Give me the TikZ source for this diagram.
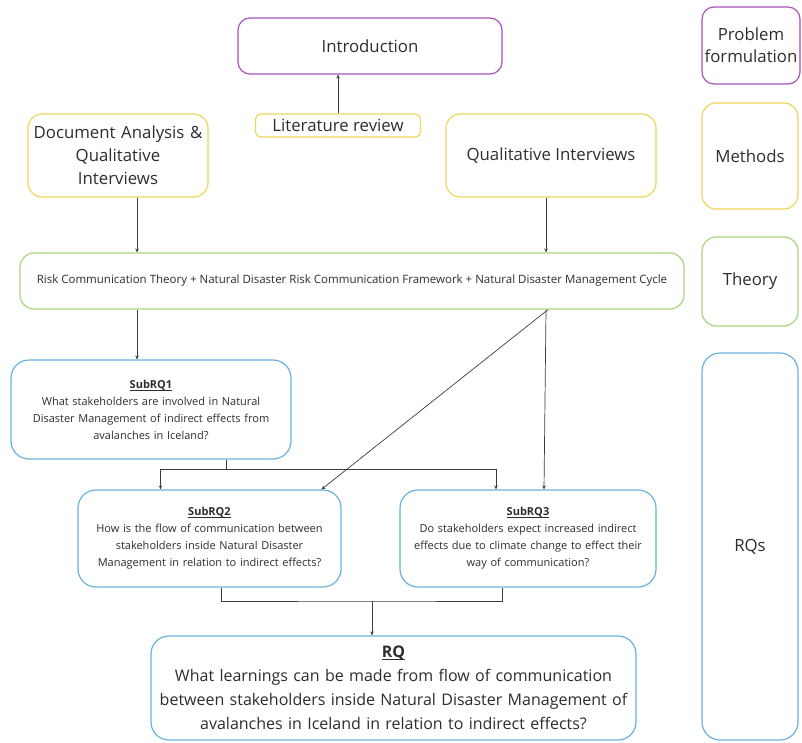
\documentclass[tikz,border=0pt]{standalone}
\usepackage{fontspec}
\setmainfont{Open Sans}
\usetikzlibrary{arrows.meta}

\definecolor{probpurple}{RGB}{168,82,186}
\definecolor{methyellow}{RGB}{238,214,92}
\definecolor{theogreen}{RGB}{168,214,124}
\definecolor{rqblue}{RGB}{104,178,220}
\definecolor{textgray}{RGB}{45,45,45}
\definecolor{linegray}{RGB}{60,60,60}

% bold title with a rule under it
\newcommand{\rqtitle}[1]{\setbox0\hbox{\textbf{#1}}\rlap{\rule[-2.2pt]{\wd0}{0.7pt}}\box0}

\begin{document}
\begin{tikzpicture}[
  x=1pt, y=1pt,
  every node/.style={text=textgray, align=center, inner sep=0pt},
  purpleblock/.style={
    rectangle,
    rounded corners=12pt,
    line width=1.2pt,
    draw=probpurple,
    font=\fontsize{16.8}{22}\selectfont
  },
  yellowblock/.style={
    rectangle,
    rounded corners=14pt,
    line width=1.2pt,
    draw=methyellow,
    font=\fontsize{16.8}{23}\selectfont
  },
  greenblock/.style={
    rectangle,
    rounded corners=14pt,
    line width=1.2pt,
    draw=theogreen,
    font=\fontsize{16.8}{23}\selectfont
  },
  blueblock/.style={
    rectangle,
    rounded corners=18pt,
    line width=1.2pt,
    draw=rqblue,
    font=\fontsize{11}{17}\selectfont
  },
  arr/.style={
    draw=linegray,
    line width=0.7pt,
    -{Stealth[length=4pt,width=3.5pt]}
  },
  link/.style={
    draw=linegray,
    line width=0.7pt
  }]
  \useasboundingbox (0,0) rectangle (802,-743);

  % left column
  \node[purpleblock, minimum width=264pt, minimum height=56pt] (intro) at (370,-46) {Introduction};
  \node[yellowblock, rounded corners=5pt, minimum width=165pt, minimum height=23pt] (lit) at (338,-125.5) {Literature review};
  \node[yellowblock, minimum width=180pt, minimum height=83pt, text width=176pt] (doc) at (118,-155.5)
    {Document Analysis \&\\ Qualitative\\ Interviews};
  \node[yellowblock, minimum width=210pt, minimum height=83pt] (qual) at (551,-155.5) {Qualitative Interviews};
  \node[greenblock, font=\fontsize{11.5}{14}\selectfont, minimum width=664pt, minimum height=56pt] (theory) at (352,-281)
    {Risk Communication Theory + Natural Disaster Risk Communication Framework + Natural Disaster Management Cycle};
  \node[blueblock, minimum width=280pt, minimum height=99pt, text width=270pt] (sub1) at (151,-409.5)
    {\rqtitle{SubRQ1}\\ What stakeholders are involved in Natural\\ Disaster Management of indirect effects from\\ avalanches in Iceland?};
  \node[blueblock, minimum width=263pt, minimum height=97pt, text width=255pt] (sub2) at (209.5,-538.5)
    {\rqtitle{SubRQ2}\\ How is the flow of communication between\\ stakeholders inside Natural Disaster\\ Management in relation to indirect effects?};
  \node[blueblock, minimum width=256pt, minimum height=97pt, text width=250pt] (sub3) at (528,-538.5)
    {\rqtitle{SubRQ3}\\ Do stakeholders expect increased indirect\\ effects due to climate change to effect their\\ way of communication?};
  \node[blueblock, font=\fontsize{16}{24}\selectfont, minimum width=485pt, minimum height=104pt, text width=480pt] (rq) at (393.5,-688)
    {\rqtitle{RQ}\\ What learnings can be made from flow of communication\\ between stakeholders inside Natural Disaster Management of\\ avalanches in Iceland in relation to indirect effects?};

  % right column
  \node[purpleblock, minimum width=98pt, minimum height=77pt] (lprob) at (751,-45.5) {Problem\\ formulation};
  \node[yellowblock, minimum width=96pt, minimum height=106pt] (lmeth) at (750,-156) {Methods};
  \node[greenblock, minimum width=96pt, minimum height=89pt] (ltheo) at (750,-281.5) {Theory};
  \node[blueblock, font=\fontsize{16.8}{22}\selectfont, minimum width=96pt, minimum height=387pt] (lrq) at (750,-546.5) {RQs};

  % connectors
  \coordinate (colA) at (137,0);
  \coordinate (colB) at (546,0);
  \coordinate (split) at (226,-469);
  \coordinate (merge) at (372,-601);

  \draw[arr] (lit.north) -- (lit.north |- intro.south);
  \draw[arr] (doc.south -| colA) -- (theory.north -| colA);
  \draw[arr] (qual.south -| colB) -- (theory.north -| colB);
  \draw[arr] (theory.south -| colA) -- (sub1.north -| colA);
  \draw[link] (sub1.south -| split) -- (split);
  \draw[arr] (split) -| ([xshift=-49pt]sub2.north);
  \draw[arr] (split) -| ([xshift=-32pt]sub3.north);
  \draw[arr] ([xshift=2pt]theory.south -| colB) -- ([xshift=112pt]sub2.north);
  \draw[arr] (theory.south -| colB) -- ([xshift=16pt]sub3.north);
  \draw[link] ([xshift=12pt]sub2.south) |- (merge) -| ([xshift=-26pt]sub3.south);
  \draw[arr] (merge) -- (merge |- rq.north);
\end{tikzpicture}
\end{document}
